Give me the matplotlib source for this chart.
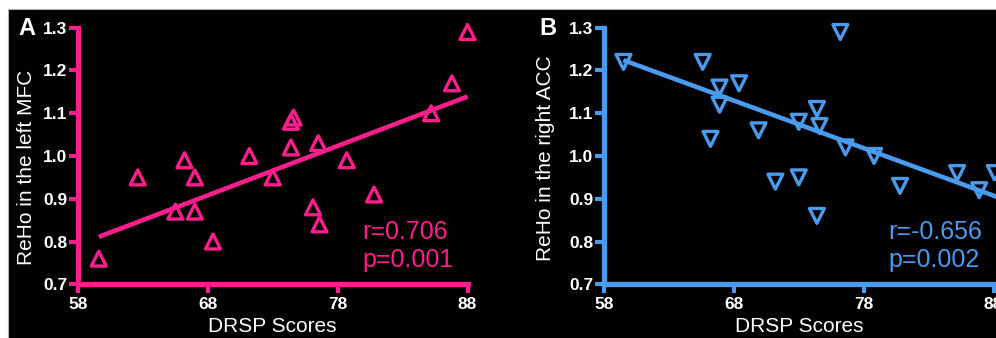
import numpy as np
import matplotlib
matplotlib.use("Agg")
import matplotlib.pyplot as plt
from matplotlib.patches import Rectangle

# ---- data ----
drsp_a = [59.6, 62.6, 65.5, 66.2, 67.0, 67.0, 68.4, 71.2, 73.0, 74.4, 74.4, 74.6,
          76.1, 76.6, 76.5, 78.7, 80.8, 85.2, 86.8, 88.0]
reho_a = [0.76, 0.95, 0.87, 0.99, 0.95, 0.87, 0.80, 1.00, 0.95, 1.02, 1.08, 1.09,
          0.88, 0.84, 1.03, 0.99, 0.91, 1.10, 1.17, 1.29]

drsp_b = [59.5, 65.6, 66.9, 66.9, 66.2, 68.4, 69.9, 71.2, 73.0, 73.0, 74.4, 74.6,
          74.4, 76.2, 76.6, 78.8, 80.8, 85.2, 86.9, 88.1]
reho_b = [1.22, 1.22, 1.16, 1.12, 1.04, 1.17, 1.06, 0.94, 0.95, 1.08, 1.11, 1.07,
          0.86, 1.29, 1.02, 1.00, 0.93, 0.96, 0.92, 0.96]

# fitted regression lines (end points)
fit_x_a = [59.6, 88.0]
fit_y_a = [0.811, 1.139]
fit_x_b = [59.5, 88.3]
fit_y_b = [1.224, 0.904]

x_ticks = [58, 68, 78, 88]
y_ticks = [0.7, 0.8, 0.9, 1.0, 1.1, 1.2, 1.3]
stats_a = ["r=0.706", "p=0.001"]
stats_b = ["r=-0.656", "p=0.002"]

PINK = "#FF1E8C"
BLUE = "#4A9BEE"

plt.rcParams['font.family'] = ['Liberation Sans', 'DejaVu Sans']

W, H = 996, 338
fig = plt.figure(figsize=(W / 100, H / 100), dpi=100, facecolor="white")
bg = fig.add_axes([0, 0, 1, 1], zorder=-10)
bg.set_axis_off()
bg.set_xlim(0, W)
bg.set_ylim(H, 0)
bg.add_patch(Rectangle((8, 9), W, H, facecolor="black", edgecolor="#b0b0b0",
                       linewidth=0.8))


def panel(left_px, xs, ys, fx, fy, color, marker, ylabel, ylab_pos, letter, stats,
          letter_x_px):
    ax = fig.add_axes([left_px / W, (H - 284.3) / H, 389.5 / W, 256.6 / H])
    ax.set_facecolor("none")
    ax.set_xlim(58, 88)
    ax.set_ylim(0.7, 1.3)
    for s in ["top", "right"]:
        ax.spines[s].set_visible(False)
    for s in ["left", "bottom"]:
        ax.spines[s].set_color(color)
        ax.spines[s].set_linewidth(3.8)
        ax.spines[s].set_capstyle("projecting")
    ax.set_xticks(x_ticks)
    ax.set_yticks(y_ticks)
    ax.set_xticklabels([str(t) for t in x_ticks])
    ax.set_yticklabels([f"{t:.1f}" for t in y_ticks])
    ax.tick_params(axis="both", colors=color, length=6.5, width=3.0, direction="out",
                   labelcolor="white", labelsize=12.5)
    ax.tick_params(axis="x", pad=3)
    ax.tick_params(axis="y", pad=1)
    for lab in ax.get_xticklabels() + ax.get_yticklabels():
        lab.set_fontweight("bold")
    ax.scatter(xs, ys, marker=marker, s=115, facecolors="none", edgecolors=color,
               linewidths=2.4, zorder=3, clip_on=False)
    ax.plot(fx, fy, color=color, lw=3.3, zorder=2, clip_on=False,
            solid_capstyle="butt")
    ax.set_xlabel("DRSP Scores", color="white", fontsize=15, labelpad=3)
    ax.set_ylabel(ylabel, color="white", fontsize=15, va="center")
    ax.yaxis.set_label_coords(ylab_pos[0], ylab_pos[1])
    ax.text(0.731, 0.204, stats[0], transform=ax.transAxes, color=color,
            fontsize=18, va="center", ha="left")
    ax.text(0.731, 0.095, stats[1], transform=ax.transAxes, color=color,
            fontsize=18, va="center", ha="left")
    fig.text(letter_x_px / W, 1 - 28.5 / H, letter, color="white", fontsize=17,
             fontweight="bold", va="center", ha="left")
    return ax


panel(78, drsp_a, reho_a, fit_x_a, fit_y_a, PINK, "^", "ReHo in the left MFC",
      (-0.131, 0.455), "A", stats_a, 18)
panel(604, drsp_b, reho_b, fit_x_b, fit_y_b, BLUE, "v", "ReHo in the right ACC",
      (-0.151, 0.49), "B", stats_b, 539)

fig.savefig("out.png", dpi=100, facecolor=fig.get_facecolor())
